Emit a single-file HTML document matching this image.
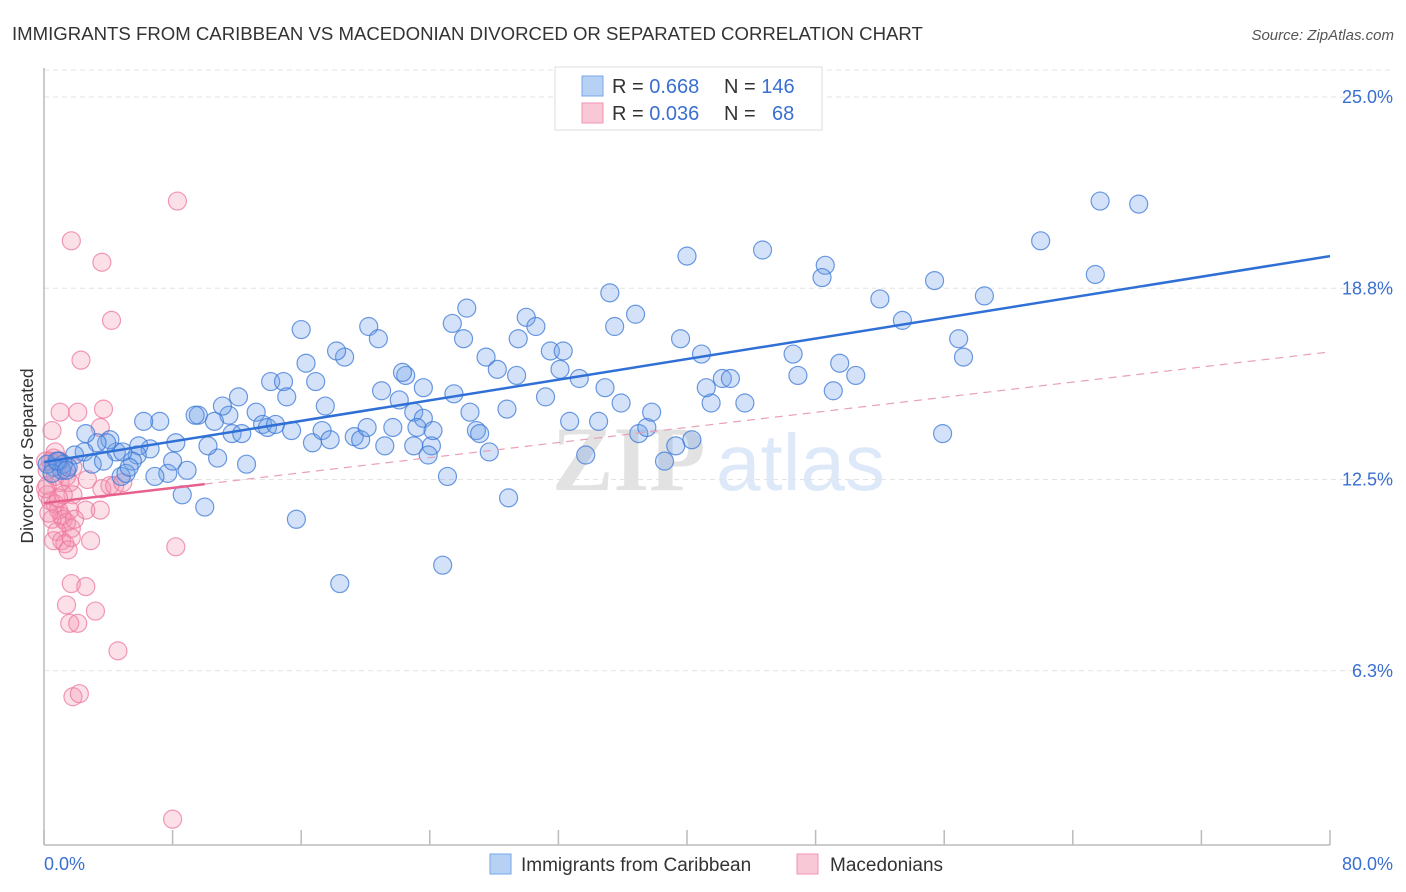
<!DOCTYPE html>
<html><head><meta charset="utf-8"><style>
body{margin:0;background:#fff;font-family:"Liberation Sans",sans-serif;}
#wrap{position:relative;width:1406px;height:892px;overflow:hidden}
</style></head><body>
<div id="wrap">
<svg id="svg" width="1406" height="892" xmlns="http://www.w3.org/2000/svg">
<text x="12" y="40" font-size="18.6" fill="#333">IMMIGRANTS FROM CARIBBEAN VS MACEDONIAN DIVORCED OR SEPARATED CORRELATION CHART</text>
<text x="1394" y="40" font-size="15" fill="#555" font-style="italic" text-anchor="end">Source: ZipAtlas.com</text>
<text transform="translate(33,456) rotate(-90)" font-size="17.5" fill="#333" text-anchor="middle">Divorced or Separated</text>
<g opacity="0.18">
<text x="552" y="490" font-size="92" font-family="Liberation Serif,serif" font-weight="bold" fill="#666">ZIP</text>
<text x="716" y="490" font-size="80" fill="#4a8be0">atlas</text>
</g>
<g id="grid"></g><g id="axes"></g><g id="pts"></g><g id="trend"></g>
<g>
<rect x="555" y="67" width="267" height="63" fill="#fff" stroke="#ddd"/>
<rect x="582" y="76" width="21" height="20" fill="#b7d1f5" stroke="#7aa6e8"/>
<rect x="582" y="103" width="21" height="20" fill="#f9c8d6" stroke="#f096b3"/>
<text x="612" y="93" font-size="20" fill="#333">R = <tspan fill="#3a6fd0">0.668</tspan><tspan x="724">N = </tspan><tspan fill="#3a6fd0">146</tspan></text>
<text x="612" y="120" font-size="20" fill="#333">R = <tspan fill="#3a6fd0">0.036</tspan><tspan x="724">N = </tspan><tspan x="772" fill="#3a6fd0">68</tspan></text>
</g>
<g>
<rect x="490" y="854" width="21" height="20" fill="#b7d1f5" stroke="#7aa6e8"/>
<text x="521" y="871" font-size="19" fill="#333">Immigrants from Caribbean</text>
<rect x="797" y="854" width="21" height="20" fill="#f9c8d6" stroke="#f096b3"/>
<text x="830" y="871" font-size="19" fill="#333">Macedonians</text>
</g>
</svg></div>
<script>
const yTicks=[6.25,12.5,18.75,25];
const yTickLabels=["6.3%","12.5%","18.8%","25.0%"];
const xTicks=[0,8,16,24,32,40,48,56,64,72,80];
const blueX=[65.7,68.1,62.0,65.4,40.0,44.7,48.6,48.4,55.4,58.5,52.0,53.4,56.9,57.2,46.6,46.9,49.5,50.5,49.1,43.6,41.5,41.2,42.2,42.7,40.9,39.6,35.2,35.5,36.8,31.5,32.3,32.1,33.3,34.9,35.9,31.2,30.0,30.6,29.5,26.3,25.4,26.1,27.5,28.2,29.4,28.8,25.5,26.5,22.5,23.6,23.0,23.6,22.1,21.0,22.3,20.2,20.8,18.7,18.2,16.0,16.3,16.9,17.5,14.1,14.9,15.1,13.2,13.6,13.9,14.4,12.1,11.5,11.1,9.6,9.4,10.6,11.7,12.3,15.4,16.7,17.3,17.8,19.3,19.7,20.1,21.2,21.7,23.2,23.0,24.1,24.2,23.9,26.9,27.1,27.7,25.1,28.9,24.8,18.4,15.7,10.0,8.6,12.6,10.8,8.9,7.7,6.9,8.0,8.2,6.6,5.9,5.8,7.2,6.2,5.5,4.5,4.1,3.9,3.3,2.6,2.5,1.9,1.5,0.6,0.9,1.2,3.0,3.7,4.8,5.1,5.3,10.2,37.0,38.6,39.3,40.3,33.7,37.5,55.9,37.8,34.5,32.7,4.9,1.1,0.2,0.5,0.8,1.4];
const blueY=[21.6,21.5,20.3,19.2,19.8,20.0,19.5,19.1,19.0,18.5,18.4,17.7,17.1,16.5,16.6,15.9,16.3,15.9,15.4,15.0,15.0,15.5,15.8,15.8,16.6,17.1,18.6,17.5,17.9,16.7,16.7,16.1,15.8,15.5,15.0,15.2,17.8,17.5,17.1,18.1,17.6,17.1,16.5,16.1,15.9,14.8,15.3,14.7,15.9,15.5,14.7,14.5,15.1,15.4,16.0,17.5,17.1,16.5,16.7,17.4,16.3,15.7,14.9,15.7,15.7,15.2,14.7,14.3,14.2,14.3,15.2,14.6,14.9,14.6,14.6,14.4,14.0,14.0,14.1,13.7,14.1,13.8,13.9,13.8,14.2,13.6,14.2,14.2,13.6,13.6,14.1,13.3,14.1,14.0,13.4,12.6,11.9,9.7,9.1,11.2,11.6,12.0,13.0,13.2,12.8,12.7,12.6,13.1,13.7,13.5,13.6,13.3,14.4,14.4,13.1,13.4,13.8,13.7,13.7,14.0,13.4,13.3,12.9,12.9,13.1,13.0,13.0,13.1,12.6,12.7,12.9,13.6,14.0,13.1,13.6,13.8,13.3,14.2,14.0,14.7,14.4,14.4,13.4,12.8,13.0,12.7,13.1,12.8];
const pinkX=[8.3,1.7,3.6,4.2,2.3,1.0,2.1,3.7,3.5,0.7,0.6,0.4,0.2,0.7,1.0,1.4,1.6,1.8,0.2,0.2,0.4,0.7,0.9,1.1,1.2,1.4,1.7,1.6,0.5,0.3,0.8,1.1,1.3,1.5,1.7,2.6,3.5,2.7,3.6,4.1,4.4,4.9,2.9,8.2,1.7,2.6,1.4,3.2,1.6,2.1,4.6,1.8,2.2,8.0,1.2,0.9,0.1,0.1,0.6,1.9,1.0,1.8,0.5];
const pinkY=[21.6,20.3,19.6,17.7,16.4,14.7,14.7,14.8,14.2,13.4,13.2,13.1,12.8,12.6,12.4,12.6,12.4,12.0,12.3,12.0,11.8,11.7,11.5,11.3,11.2,11.1,10.9,11.5,11.2,11.4,10.8,10.5,10.4,10.2,10.6,11.5,11.5,12.5,12.2,12.3,12.3,12.4,10.5,10.3,9.1,9.0,8.4,8.2,7.8,7.8,6.9,5.4,5.5,1.4,12.0,11.9,13.1,12.2,10.5,11.2,13.1,12.9,14.1];
const blueTrendX=[0,80], blueTrendY=[13.07,19.8];
const pinkTrendX=[0,10,80], pinkTrendY=[11.73,12.35,16.67];

const NS="http://www.w3.org/2000/svg";
const X0=44,X1=1330,Y25=97,PPU=30.6;
const sx=v=>X0+(X1-X0)*v/80;
const sy=v=>Y25+(25-v)*PPU;
function mk(tag,attrs,parent){const e=document.createElementNS(NS,tag);for(const k in attrs)e.setAttribute(k,attrs[k]);parent.appendChild(e);return e;}
const gridG=document.getElementById('grid'),axesG=document.getElementById('axes'),ptsG=document.getElementById('pts'),trG=document.getElementById('trend');
const topBorder=mk('line',{x1:X0,x2:1392,y1:70,y2:70,stroke:'#e3e3e3','stroke-dasharray':'5,4'},gridG);


yTicks.forEach((v,i)=>{
  const l=mk('line',{x1:X0,x2:1392,y1:sy(v),y2:sy(v),stroke:'#e3e3e3','stroke-dasharray':'5,4'},gridG);
  
  
  const t=mk('text',{x:1393,y:sy(v)+6,'font-size':18,fill:'#3a6fd0','text-anchor':'end'},axesG);
  t.textContent=yTickLabels[i];
  
  
});
const yAxisLine=mk('line',{x1:X0,x2:X0,y1:68,y2:845,stroke:'#bbb','stroke-width':1.5},axesG);


const xAxisLine=mk('line',{x1:X0,x2:X1,y1:845,y2:845,stroke:'#bbb','stroke-width':1.5},axesG);


xTicks.forEach(v=>{const t=mk('line',{x1:sx(v),x2:sx(v),y1:830,y2:845,stroke:'#bbb','stroke-width':1.5},axesG);
  
  });
const xMinLabel=mk('text',{x:44,y:870,'font-size':18,fill:'#3a6fd0'},axesG);xMinLabel.textContent='0.0%';


const xMaxLabel=mk('text',{x:1393,y:870,'font-size':18,fill:'#3a6fd0','text-anchor':'end'},axesG);xMaxLabel.textContent='80.0%';


pinkX.forEach((x,i)=>{const c=mk('circle',{cx:sx(x),cy:sy(pinkY[i]),r:9,fill:'rgba(244,143,173,0.28)',stroke:'rgba(236,120,160,0.75)','stroke-width':1.2},ptsG);
  
  });
blueX.forEach((x,i)=>{const c=mk('circle',{cx:sx(x),cy:sy(blueY[i]),r:9,fill:'rgba(110,160,232,0.3)',stroke:'rgba(60,120,215,0.75)','stroke-width':1.2},ptsG);
  
  });
const blueTrend=mk('line',{x1:sx(blueTrendX[0]),y1:sy(blueTrendY[0]),x2:sx(blueTrendX[1]),y2:sy(blueTrendY[1]),stroke:'#2f6fd6','stroke-width':2.5},trG);


const pinkSolid=mk('line',{x1:sx(pinkTrendX[0]),y1:sy(pinkTrendY[0]),x2:sx(pinkTrendX[1]),y2:sy(pinkTrendY[1]),stroke:'#e8618c','stroke-width':2.5},trG);


const pinkDash=mk('line',{x1:sx(pinkTrendX[1]),y1:sy(pinkTrendY[1]),x2:sx(pinkTrendX[2]),y2:sy(pinkTrendY[2]),stroke:'#e8a0b8','stroke-width':1.2,'stroke-dasharray':'8,6'},trG);


</script>
</body></html>
